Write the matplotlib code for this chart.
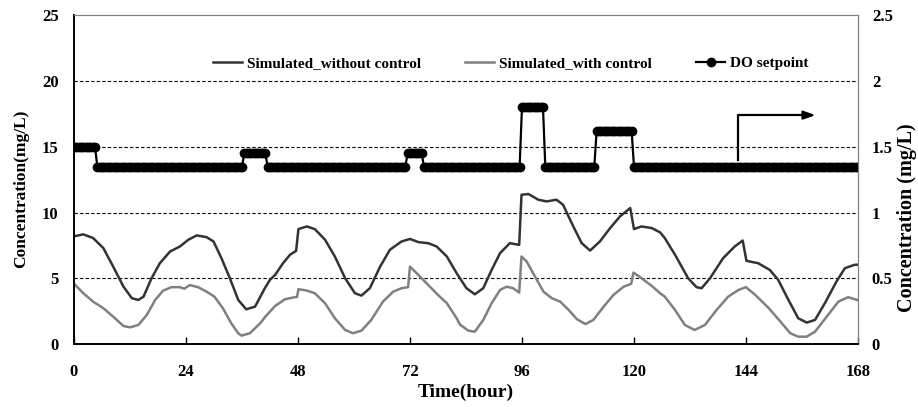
import numpy as np
import matplotlib.pyplot as plt
from matplotlib.ticker import FuncFormatter

plt.rcParams['font.family'] = ['Liberation Serif', 'DejaVu Serif']
plt.rcParams['font.weight'] = 'bold'

# simulated without control (left axis)
t_wo = [0, 2, 4.1, 6.3, 8.4, 10.6, 12.4, 13.8, 14.9, 16.6, 18.4, 20.6, 22.7, 24.5,
        26.3, 28.4, 29.9, 31.6, 33.4, 35.2, 36.9, 38.8, 40.9, 42, 43.1, 44.8, 46.3,
        47.6, 48.1, 49.9, 51.6, 53.8, 55.9, 58.1, 60.2, 61.6, 63.4, 65.6, 67.7,
        70.2, 72, 73.8, 75.9, 77.7, 79.9, 82, 84.1, 85.9, 87.7, 89.5, 91.3, 93.4,
        95.4, 95.9, 97.4, 99.5, 101.3, 103.4, 104.8, 107, 108.8, 110.6, 112.7,
        114.9, 117, 119.2, 120, 121.6, 123.8, 125.6, 126.6, 128.8, 131.6, 133.4,
        134.5, 136.3, 139.1, 141.6, 143.3, 144.1, 146.6, 149.1, 150.9, 153.1,
        155.2, 157, 158.8, 160.9, 163.4, 165.2, 167.2, 168]
c_wo = [8.2, 8.35, 8.07, 7.3, 5.9, 4.38, 3.5, 3.37, 3.62, 5.0, 6.16, 7.05, 7.43, 7.94,
        8.27, 8.14, 7.81, 6.54, 5.02, 3.37, 2.66, 2.86, 4.26, 4.9, 5.27, 6.16, 6.8,
        7.1, 8.75, 8.95, 8.75, 7.94, 6.67, 5.02, 3.88, 3.7, 4.26, 5.9, 7.18,
        7.81, 8.0, 7.76, 7.68, 7.43, 6.67, 5.4, 4.26, 3.8, 4.26, 5.65, 6.92, 7.68,
        7.55, 11.36, 11.41, 10.98, 10.85, 10.98, 10.6, 8.95, 7.68, 7.12, 7.81,
        8.83, 9.71, 10.35, 8.75, 8.95, 8.83, 8.5, 8.07, 6.8, 5.02, 4.34,
        4.26, 5.02, 6.54, 7.43, 7.88, 6.34, 6.16, 5.65, 4.9, 3.37,
        1.98, 1.65, 1.85, 3.12, 4.77, 5.78, 6.03, 6.05]

# simulated with control (left axis)
t_w = [0, 2, 4.1, 6.3, 8.4, 10.6, 12, 13.8, 15.6, 17.4, 19.1, 20.9, 22.7, 23.6,
       24.8, 26.6, 28.4, 30.1, 31.9, 33.7, 35.2, 35.9, 37.7, 39.9, 41, 43.1, 45.2,
       47.3, 47.8, 48.1, 49.9, 51.6, 53.8, 55.9, 58.1, 59.8, 61.6, 63.7, 66.2,
       68.4, 70.2, 71.6, 72, 73.8, 75.9, 78, 79.9, 82, 82.7, 84.5, 85.9, 87.7,
       89.5, 91.3, 92.7, 94.1, 95.4, 95.9, 97, 98.8, 100.6, 102.4, 104.2, 106,
       107.8, 109.6, 111.3, 113.5, 115.6, 117.8, 119.4, 119.9, 121.6, 123.8,
       125.6, 126.6, 128.8, 130.9, 133, 135.2, 137.7, 140.2, 142.4, 144, 146,
       148.9, 151.4, 153.5, 155.2, 157, 158.8, 161.3, 163.8, 165.9, 168]
c_w = [4.6, 3.88, 3.24, 2.74, 2.1, 1.39, 1.29, 1.47, 2.23, 3.37, 4.08, 4.34, 4.34, 4.22,
       4.5, 4.34, 4.0, 3.62, 2.74, 1.6, 0.84, 0.66, 0.84, 1.6, 2.1, 2.91, 3.42,
       3.58, 3.6, 4.19, 4.08, 3.88, 3.12, 1.98, 1.09, 0.84, 1.04, 1.85, 3.24,
       4.0, 4.26, 4.34, 5.9, 5.27, 4.51, 3.75, 3.12, 1.98, 1.5, 1.04, 0.96, 1.85,
       3.12, 4.13, 4.38, 4.26, 3.93, 6.67, 6.29, 5.14, 4.0, 3.5, 3.24, 2.61,
       1.9, 1.54, 1.85, 2.86, 3.75, 4.38, 4.59, 5.45, 5.02, 4.44,
       3.88, 3.62, 2.61, 1.47, 1.09, 1.47, 2.61, 3.62, 4.13, 4.34, 3.75,
       2.74, 1.72, 0.84, 0.58, 0.58, 0.96, 2.1, 3.24, 3.58, 3.35]

# DO setpoint (right axis): level changes and levels, sampled every half hour
sp_start = [0, 5, 36.5, 41.5, 71.5, 75, 96, 101, 112, 120]
sp_level = [1.5, 1.35, 1.45, 1.35, 1.45, 1.35, 1.8, 1.35, 1.62, 1.35]
t_sp = np.arange(0, 168.5, 0.5)
do_sp = np.array(sp_level)[np.searchsorted(sp_start, t_sp, side='right') - 1]

fig = plt.figure(figsize=(9.18, 4.07), dpi=100)
ax = fig.add_axes([0.0806, 0.154, 0.8540, 0.809])
ax2 = ax.twinx()

l1, = ax.plot(t_wo, c_wo, color='#333333', lw=1.8, label='Simulated_without control')
l2, = ax.plot(t_w, c_w, color='#808080', lw=1.8, label='Simulated_with control')
l3, = ax2.plot(t_sp, do_sp, color='black', lw=1.6, marker='o', ms=6,
               label='DO setpoint')

# arrow pointing to the right axis
ax.plot([142.3, 142.3, 157.5], [14.0, 17.4, 17.4], color='black', lw=1.6)
ax.annotate('', xy=(159.5, 17.4), xytext=(156.5, 17.4),
            arrowprops=dict(arrowstyle='-|>,head_length=0.7,head_width=0.25',
                            color='black', lw=1.6))

ax.set_xlim(0, 168)
ax.set_ylim(0, 25)
ax2.set_ylim(0, 2.5)
ax.set_xticks(np.arange(0, 169, 24))
ax.set_yticks(np.arange(0, 26, 5))
ax2.set_yticks(np.arange(0, 2.6, 0.5))
ax2.yaxis.set_major_formatter(FuncFormatter(lambda v, p: f'{v:g}'))
for y in [5, 10, 15, 20]:
    ax.axhline(y, color='black', lw=0.8, ls=(0, (3, 2)), zorder=0)

ax.tick_params(axis='x', direction='in', length=5, width=1, labelsize=12, pad=14)
ax.tick_params(axis='y', length=0, labelsize=12, pad=11)
ax2.tick_params(axis='y', length=0, labelsize=12, pad=10)
for a in (ax, ax2):
    a.spines['left'].set_color('black')
    a.spines['bottom'].set_color('black')
    a.spines['top'].set_color('#808080')
    a.spines['right'].set_color('#808080')
    a.spines['left'].set_linewidth(1.2)
    a.spines['bottom'].set_linewidth(1.2)

ax.set_xlabel('Time(hour)', fontsize=14, fontweight='bold', labelpad=3)
ax.set_ylabel('Concentration(mg/L)', fontsize=12.5, fontweight='bold', labelpad=9)
ax2.set_ylabel('Concentration (mg/L)', fontsize=14.5, fontweight='bold', labelpad=3)
ax.yaxis.label.set_y(0.472)
ax2.yaxis.label.set_y(0.384)

ax.legend(handles=[l1, l2, l3], loc='center', bbox_to_anchor=(0.557, 0.854),
          ncol=3, frameon=False, fontsize=11, handlelength=1.9,
          handletextpad=0.33, columnspacing=2.9)

fig.savefig('out.png', dpi=100)
